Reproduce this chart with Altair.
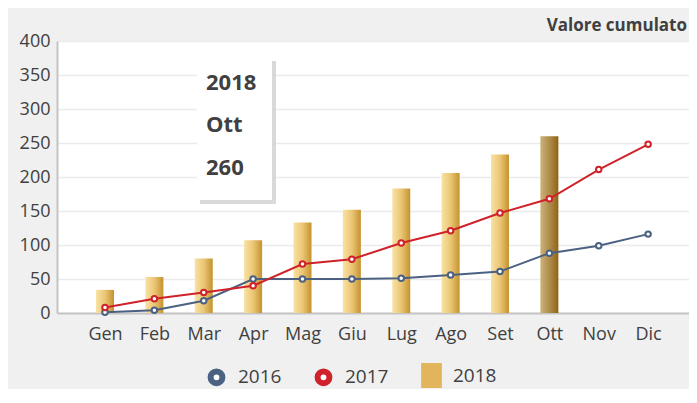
import altair as alt
import pandas as pd

# ---- data ----
months = ["Gen", "Feb", "Mar", "Apr", "Mag", "Giu", "Lug", "Ago", "Set", "Ott", "Nov", "Dic"]
v2016 = [1, 4, 18, 50, 50, 50, 51, 56, 61, 88, 99, 116]
v2017 = [8, 21, 30, 40, 72, 79, 103, 121, 147, 168, 211, 248]
v2018 = [34, 53, 80, 107, 133, 152, 183, 206, 233, 260]
series = ["2016", "2017", "2018"]
y_ticks = [0, 50, 100, 150, 200, 250, 300, 350, 400]
highlight_month = "Ott"
highlight_series = "2018"
title_text = "Valore cumulato"

rows = []
for name, vals in zip(series, [v2016, v2017, v2018]):
    for m, v in zip(months, vals):
        rows.append({"mese": m, "serie": name, "valore": v})
df = pd.DataFrame(rows)

hi = months.index(highlight_month)
ann = pd.DataFrame({"t1": [highlight_series], "t2": [highlight_month], "t3": [str(v2018[hi])]})

FONT = "Open Sans"
TXT = "#404040"
BLUE = "#4b6182"
RED = "#d0222a"
GOLD = "#e2b55c"

x_enc = alt.X("mese:N", sort=months,
              scale=alt.Scale(type="point", domain=months, padding=0.9, align=0.54),
              axis=alt.Axis(title=None, labelAngle=0, ticks=False, grid=False,
                            domainColor="#c4c4c4", domainWidth=2,
                            labelFont=FONT, labelFontSize=18, labelColor=TXT,
                            labelPadding=12))
y_enc = alt.Y("valore:Q",
              scale=alt.Scale(domain=[0, 400], nice=False),
              axis=alt.Axis(title=None, values=y_ticks, ticks=False, grid=True,
                            gridColor="#ebebeb", gridWidth=1.5,
                            domainColor="#c4c4c4", domainWidth=2,
                            labelFont=FONT, labelFontSize=18, labelColor=TXT,
                            labelPadding=7))

base = alt.Chart(df)

grad_normal = alt.LinearGradient(
    gradient="linear", x1=0, x2=1, y1=0, y2=0,
    stops=[alt.GradientStop(color="#f8e2a4", offset=0),
           alt.GradientStop(color="#ebc675", offset=0.5),
           alt.GradientStop(color="#c4922f", offset=1)])
grad_hi = alt.LinearGradient(
    gradient="linear", x1=0, x2=1, y1=0, y2=0,
    stops=[alt.GradientStop(color="#cdb27a", offset=0),
           alt.GradientStop(color="#ad8947", offset=0.55),
           alt.GradientStop(color="#8e6314", offset=1)])

bars = base.transform_filter(
    (alt.datum.serie == highlight_series) & (alt.datum.mese != highlight_month)
).mark_bar(size=18, color=grad_normal).encode(x=x_enc, y=y_enc)

bar_hi = base.transform_filter(
    (alt.datum.serie == highlight_series) & (alt.datum.mese == highlight_month)
).mark_bar(size=18, color=grad_hi).encode(x=x_enc, y=y_enc)

line16 = base.transform_filter(alt.datum.serie == "2016").mark_line(
    color=BLUE, strokeWidth=2).encode(x=x_enc, y=y_enc)
line17 = base.transform_filter(alt.datum.serie == "2017").mark_line(
    color=RED, strokeWidth=2).encode(x=x_enc, y=y_enc)

rect_path = "M-1.25,-1.6H1.25V1.6H-1.25Z"
leg = alt.Legend(title=None, orient="none", legendX=150, legendY=325,
                 direction="horizontal", symbolSize=140, symbolStrokeWidth=6,
                 labelFont=FONT, labelFontSize=19, labelColor=TXT,
                 labelOffset=12, columnPadding=23, symbolOpacity=1)

points = base.transform_filter(alt.datum.serie != "2018").mark_point(
    filled=True, size=30, strokeWidth=2, opacity=1).encode(
    x=x_enc, y=y_enc,
    stroke=alt.Stroke("serie:N", scale=alt.Scale(domain=series, range=[BLUE, RED, GOLD]), legend=leg),
    fill=alt.Fill("serie:N", scale=alt.Scale(domain=series, range=["white", "white", GOLD]), legend=leg),
    shape=alt.Shape("serie:N", scale=alt.Scale(domain=series, range=["circle", "circle", rect_path]), legend=leg),
)

abase = alt.Chart(ann)
shadow = abase.mark_rect(color="#cfcfcf", opacity=0.8).encode(
    x=alt.value(143), x2=alt.value(219), y=alt.value(20), y2=alt.value(163))
box = abase.mark_rect(color="white").encode(
    x=alt.value(140), x2=alt.value(215), y=alt.value(17), y2=alt.value(159))
tstyle = dict(align="left", baseline="middle", font=FONT, fontSize=22,
              fontWeight="bold", color=TXT)
t1 = abase.mark_text(**tstyle).encode(text="t1:N", x=alt.value(149), y=alt.value(42))
t2 = abase.mark_text(**tstyle).encode(text="t2:N", x=alt.value(149), y=alt.value(84))
t3 = abase.mark_text(**tstyle).encode(text="t3:N", x=alt.value(149), y=alt.value(127))

chart = alt.layer(bars, bar_hi, line16, line17, points, shadow, box, t1, t2, t3).properties(
    width=632, height=272,
    autosize=alt.AutoSizeParams(type="none"),
    padding={"left": 49, "top": 33, "right": 0, "bottom": 76},
    background="#f0f0f0",
    title=alt.TitleParams(text=title_text, anchor="end", frame="group", font=FONT,
                          fontSize=17, fontWeight="bold", color=TXT,
                          baseline="alphabetic", offset=2, dy=18, dx=-2),
).configure_view(fill="white", strokeWidth=0)

chart.save("out.html", embed_options={"renderer": "svg", "actions": False})
